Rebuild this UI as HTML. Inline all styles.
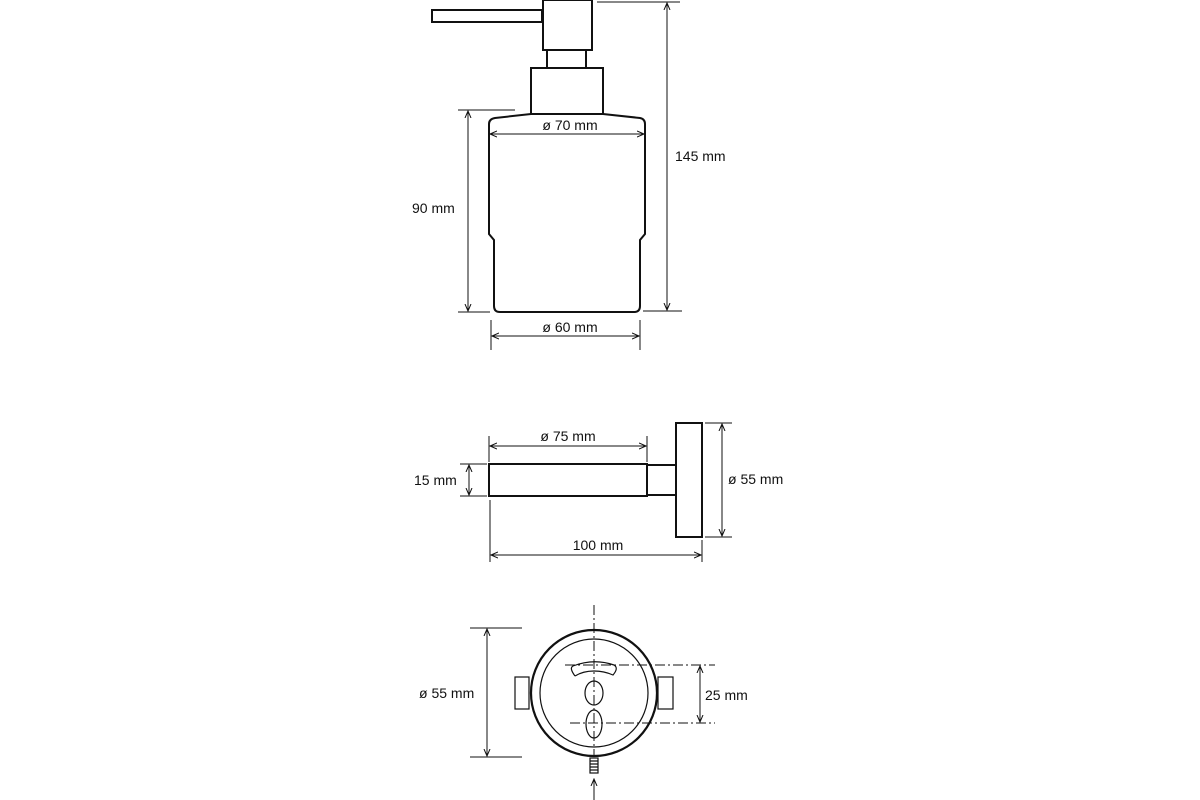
<!DOCTYPE html>
<html><head><meta charset="utf-8"><style>
html,body{margin:0;padding:0;background:#fff;}
svg{display:block}
text{font-family:"Liberation Sans",sans-serif;font-size:14px;fill:#111;}
</style></head><body>
<svg width="1200" height="800" viewBox="0 0 1200 800" xmlns="http://www.w3.org/2000/svg">
<defs>
<marker id="a" markerWidth="8" markerHeight="8" refX="7" refY="4" orient="auto-start-reverse" markerUnits="userSpaceOnUse">
<path d="M0,1 L7,4 L0,7" fill="none" stroke="#111" stroke-width="1"/></marker>
</defs>
<g fill="none" stroke="#111">
<g stroke-width="2">
<rect x="432" y="10" width="110" height="12"/>
<rect x="543" y="0" width="49" height="50"/>
<rect x="547" y="50" width="39" height="18"/>
<rect x="531" y="68" width="72" height="46"/>
<path d="M489,234 V124 Q489,119 495,118 L531,114 L603,114 L640,118 Q645,119 645,124 V234 L640,240 V306 Q640,312 634,312 H500 Q494,312 494,306 V240 Z"/>
</g>
<g stroke-width="1">
<line x1="458" y1="110" x2="515" y2="110"/>
<line x1="458" y1="312" x2="490" y2="312"/>
<line x1="468" y1="111" x2="468" y2="311" marker-start="url(#a)" marker-end="url(#a)"/>
<line x1="597" y1="2" x2="680" y2="2"/>
<line x1="643" y1="311" x2="682" y2="311"/>
<line x1="667" y1="3" x2="667" y2="310" marker-start="url(#a)" marker-end="url(#a)"/>
<line x1="490" y1="134" x2="644" y2="134" marker-start="url(#a)" marker-end="url(#a)"/>
<line x1="491" y1="320" x2="491" y2="350"/>
<line x1="640" y1="320" x2="640" y2="350"/>
<line x1="492" y1="336" x2="639" y2="336" marker-start="url(#a)" marker-end="url(#a)"/>
</g>
<g stroke-width="2">
<rect x="489" y="464" width="158" height="32"/>
<rect x="647" y="465" width="29" height="30"/>
<rect x="676" y="423" width="26" height="114"/>
</g>
<g stroke-width="1">
<line x1="489" y1="436" x2="489" y2="462"/>
<line x1="647" y1="436" x2="647" y2="462"/>
<line x1="490" y1="446" x2="646" y2="446" marker-start="url(#a)" marker-end="url(#a)"/>
<line x1="460" y1="464" x2="487" y2="464"/>
<line x1="460" y1="496" x2="487" y2="496"/>
<line x1="469" y1="465" x2="469" y2="495" marker-start="url(#a)" marker-end="url(#a)"/>
<line x1="705" y1="423" x2="732" y2="423"/>
<line x1="705" y1="537" x2="732" y2="537"/>
<line x1="722" y1="424" x2="722" y2="536" marker-start="url(#a)" marker-end="url(#a)"/>
<line x1="490" y1="500" x2="490" y2="562"/>
<line x1="702" y1="540" x2="702" y2="562"/>
<line x1="491" y1="555" x2="701" y2="555" marker-start="url(#a)" marker-end="url(#a)"/>
</g>
<rect x="515" y="677" width="14" height="32" stroke-width="1.2" fill="#fff"/>
<rect x="658" y="677" width="15" height="32" stroke-width="1.2" fill="#fff"/>
<circle cx="594" cy="693" r="63" stroke-width="2.2" fill="#fff"/>
<circle cx="594" cy="693" r="54" stroke-width="1.2"/>
<g stroke-width="1.2">
<path d="M575,676 Q569,668 573,666 Q594,658 614,665 Q619,668 613,675 Q604,671 594,671 Q583,671 575,676"/>
<ellipse cx="594" cy="693" rx="9" ry="12"/>
<ellipse cx="594" cy="724" rx="8" ry="14"/>
<rect x="590" y="758" width="8" height="15"/>
<path d="M590,761 H598 M590,764 H598 M590,767 H598 M590,770 H598"/>
</g>
<g stroke-width="1" stroke-dasharray="10,3,2,3">
<line x1="594" y1="605" x2="594" y2="756"/>
<line x1="565" y1="665" x2="715" y2="665"/>
<line x1="570" y1="723" x2="715" y2="723"/>
</g>
<g stroke-width="1">
<line x1="594" y1="800" x2="594" y2="779" marker-end="url(#a)"/>
<line x1="700" y1="666" x2="700" y2="722" marker-start="url(#a)" marker-end="url(#a)"/>
<line x1="470" y1="628" x2="522" y2="628"/>
<line x1="470" y1="757" x2="522" y2="757"/>
<line x1="487" y1="629" x2="487" y2="756" marker-start="url(#a)" marker-end="url(#a)"/>
</g>
</g>
<text x="570" y="130" text-anchor="middle">ø 70 mm</text>
<text x="570" y="332" text-anchor="middle">ø 60 mm</text>
<text x="412" y="213">90 mm</text>
<text x="675" y="161">145 mm</text>
<text x="568" y="441" text-anchor="middle">ø 75 mm</text>
<text x="414" y="485">15 mm</text>
<text x="728" y="484">ø 55 mm</text>
<text x="598" y="550" text-anchor="middle">100 mm</text>
<text x="419" y="698">ø 55 mm</text>
<text x="705" y="700">25 mm</text>
</svg>
</body></html>
